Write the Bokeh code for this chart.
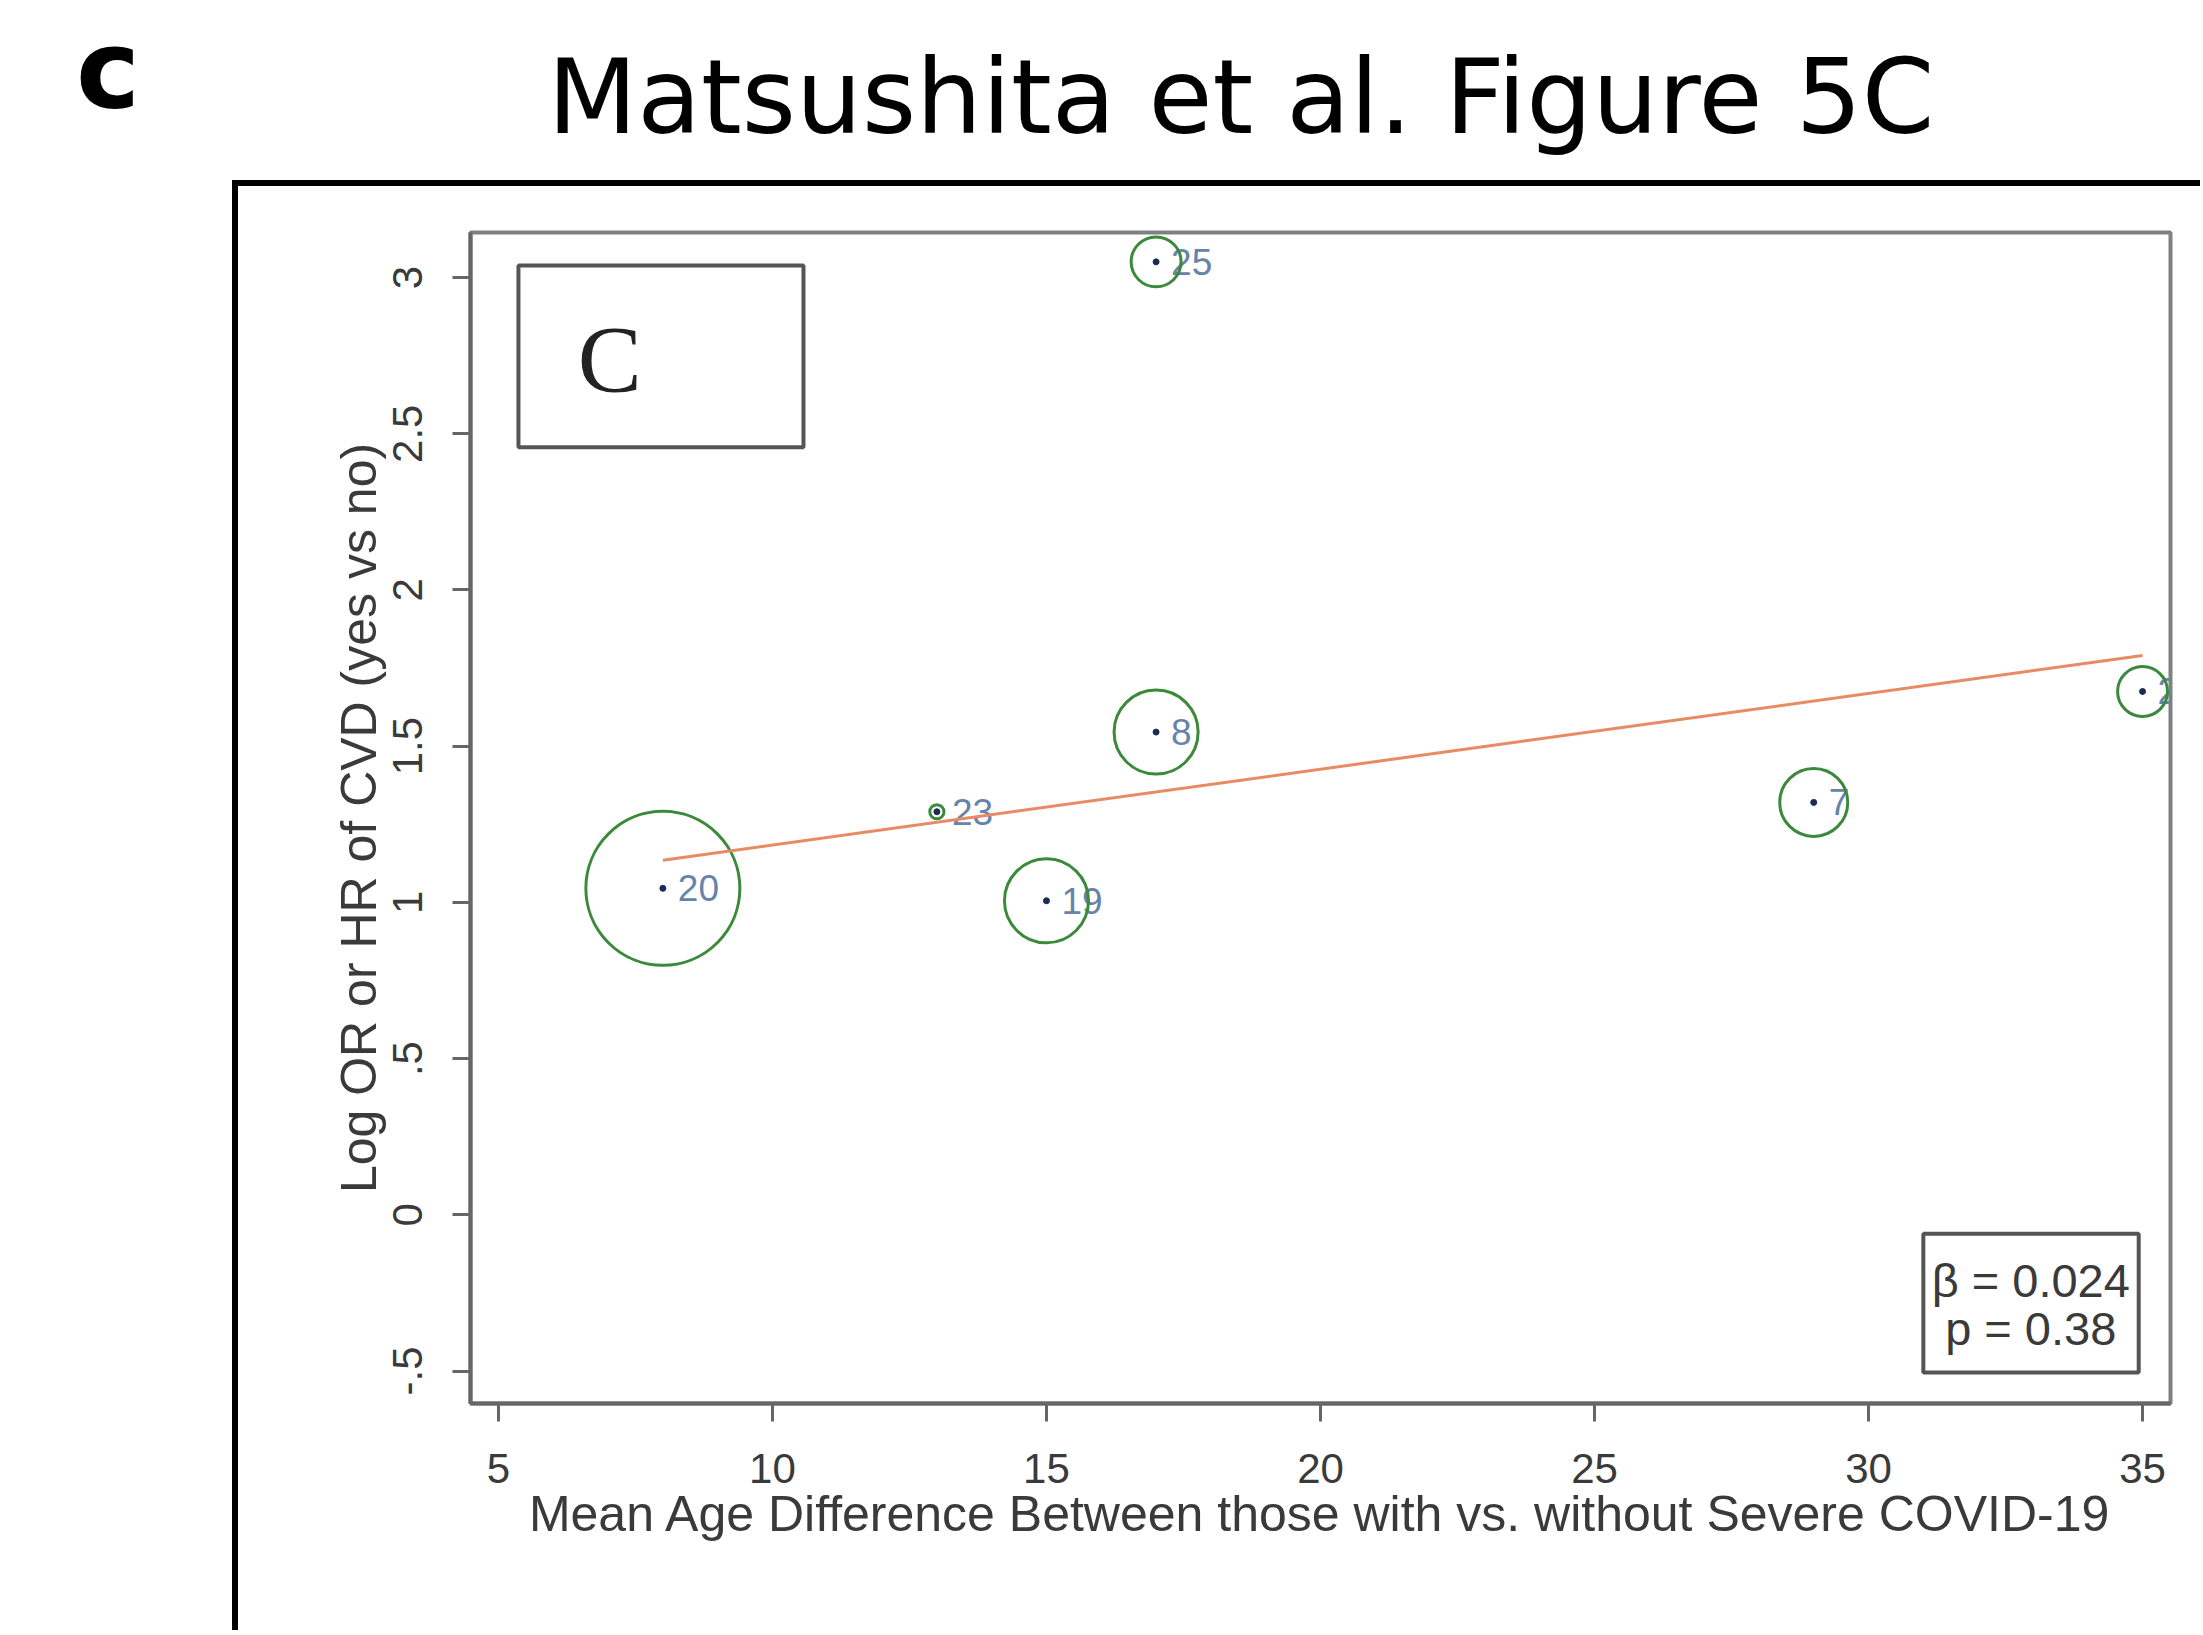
from bokeh.plotting import figure
from bokeh.models import Range1d, FixedTicker, Label, BoxAnnotation, ColumnDataSource, Spacer, Div
from bokeh.layouts import column, row
from bokeh.core.properties import value
from bokeh.embed import file_html
from bokeh.resources import INLINE
import numpy as np

# ---------------- data ----------------
study_ids = ["25", "8", "23", "20", "19", "7", "2"]
age_diff = [17.0, 17.0, 13.0, 8.0, 15.0, 29.0, 35.0]
log_or = [3.05, 1.545, 1.29, 1.045, 1.005, 1.32, 1.675]
weights = [10.5, 29.8, 0.85, 100.0, 29.8, 19.5, 10.5]

fit_x = [8.0, 35.0]
fit_y = [1.135, 1.79]

x_ticks = [5, 10, 15, 20, 25, 30, 35]
y_ticks = [-0.5, 0.0, 0.5, 1.0, 1.5, 2.0, 2.5, 3.0]
y_tick_labels = ["-.5", "0", ".5", "1", "1.5", "2", "2.5", "3"]

beta_text = "β = 0.024"
p_text = "p = 0.38"
panel_letter = "c"
main_title = "Matsushita et al. Figure 5C"
inset_letter = "C"
x_title = "Mean Age Difference Between those with vs. without Severe COVID-19"
y_title = "Log OR or HR of CVD (yes vs no)"

# ---------------- page geometry (px) ----------------
PAGE_W = 2200
HEAD_H = 180          # header strip with panel letter and title
LINE = 6              # black panel frame thickness
PANEL_X = 232         # left edge of the black panel frame
PW = PAGE_W - PANEL_X - LINE
PH = 1630 - HEAD_H - LINE
FL, FT, FR, FB = 470, 232, 2170, 1403   # plot frame edges on the page

# ---------------- header (HTML text) ----------------
head_html = (
    '<div style="position:relative;width:%dpx;height:%dpx;margin:0;padding:0;">'
    '<span style="position:absolute;left:76px;top:16px;font-family:\'DejaVu Sans\';'
    'font-weight:bold;font-size:108px;line-height:108px;color:black;white-space:nowrap;">%s</span>'
    '<span style="position:absolute;left:241px;top:45px;width:2000px;text-align:center;'
    'font-family:\'DejaVu Sans\';font-weight:normal;font-size:104px;line-height:104px;'
    'color:black;white-space:nowrap;">%s</span>'
    '</div>' % (PAGE_W, HEAD_H, panel_letter, main_title)
)
head = Div(text=head_html, width=PAGE_W, height=HEAD_H, margin=0,
           styles={"margin": "0", "padding": "0", "overflow": "visible"})

# ---------------- main plot ----------------
p = figure(width=PW, height=PH, output_backend="svg", toolbar_location=None,
           x_range=Range1d(4.49, 35.51), y_range=Range1d(-0.604, 3.144),
           min_border_left=FL - PANEL_X - LINE, min_border_right=PAGE_W - FR,
           min_border_top=FT - HEAD_H - LINE, min_border_bottom=HEAD_H + LINE + PH - FB)
p.background_fill_color = "white"
p.border_fill_color = "white"
p.grid.visible = False
p.outline_line_color = "#808080"
p.outline_line_width = 4

TICK_FONT = "Liberation Sans"
TXT = "#3a3a3a"
for ax in (p.xaxis[0], p.yaxis[0]):
    ax.axis_line_color = "#666666"
    ax.axis_line_width = 4
    ax.major_tick_line_color = "#666666"
    ax.major_tick_line_width = 3
    ax.major_tick_out = 18
    ax.major_tick_in = 0
    ax.minor_tick_line_color = None
    ax.major_label_text_font = TICK_FONT
    ax.major_label_text_font_size = "42px"
    ax.major_label_text_color = TXT
    ax.axis_label_text_font = TICK_FONT
    ax.axis_label_text_font_size = "50px"
    ax.axis_label_text_font_style = "normal"
    ax.axis_label_text_color = TXT

p.xaxis.ticker = FixedTicker(ticks=x_ticks)
p.yaxis.ticker = FixedTicker(ticks=y_ticks)
p.yaxis.major_label_overrides = {float(v): lab for v, lab in zip(y_ticks, y_tick_labels)}
p.yaxis.major_label_orientation = "vertical"
p.xaxis.major_label_standoff = 32
p.yaxis.major_label_standoff = 30
p.xaxis.axis_label = x_title
p.yaxis.axis_label = y_title
p.xaxis.axis_label_standoff = 0
p.yaxis.axis_label_standoff = 4

diam = [15.4 * np.sqrt(w) for w in weights]
src = ColumnDataSource(dict(x=age_diff, y=log_or, lab=study_ids, d=diam))

p.text(x="x", y="y", text="lab", source=src, x_offset=15,
       text_baseline="middle", text_align="left",
       text_font=value(TICK_FONT), text_font_size="37px", text_color="#6684aa")
p.scatter(x="x", y="y", size="d", source=src, marker="circle",
          fill_alpha=0, line_color="#3b8a3b", line_width=3)
p.scatter(x="x", y="y", size=6, source=src, marker="circle",
          fill_color="#1c2b55", line_color="#1c2b55")
p.line(fit_x, fit_y, line_color="#e88a64", line_width=3)

# inset "C" box
p.add_layout(BoxAnnotation(left=5.365, right=10.566, top=3.038, bottom=2.457,
                           fill_alpha=0, line_color="#555555", line_alpha=1, line_width=4))
p.add_layout(Label(x=7.03, y=2.738, text=inset_letter, text_align="center",
                   text_baseline="middle", text_font="Liberation Serif",
                   text_font_size="96px", text_color="#222222"))

# stats box
p.add_layout(BoxAnnotation(left=31.0, right=34.93, top=-0.061, bottom=-0.505,
                           fill_color="white", fill_alpha=1, line_color="#555555",
                           line_alpha=1, line_width=4))
p.add_layout(Label(x=32.96, y=-0.21, text=beta_text, text_align="center",
                   text_baseline="middle", text_font=TICK_FONT,
                   text_font_size="47px", text_color=TXT))
p.add_layout(Label(x=32.96, y=-0.365, text=p_text, text_align="center",
                   text_baseline="middle", text_font=TICK_FONT,
                   text_font_size="47px", text_color=TXT))

# ---------------- layout with black panel frame (top + left edges) ----------------
top_bar = Spacer(width=PW + LINE, height=LINE, styles={"background-color": "black"})
left_bar = Spacer(width=LINE, height=PH, styles={"background-color": "black"})
gap = Spacer(width=PANEL_X, height=PH + LINE)
layout = column(head, row(gap, column(top_bar, row(left_bar, p))))

open("out.html", "w").write(file_html(layout, INLINE))
